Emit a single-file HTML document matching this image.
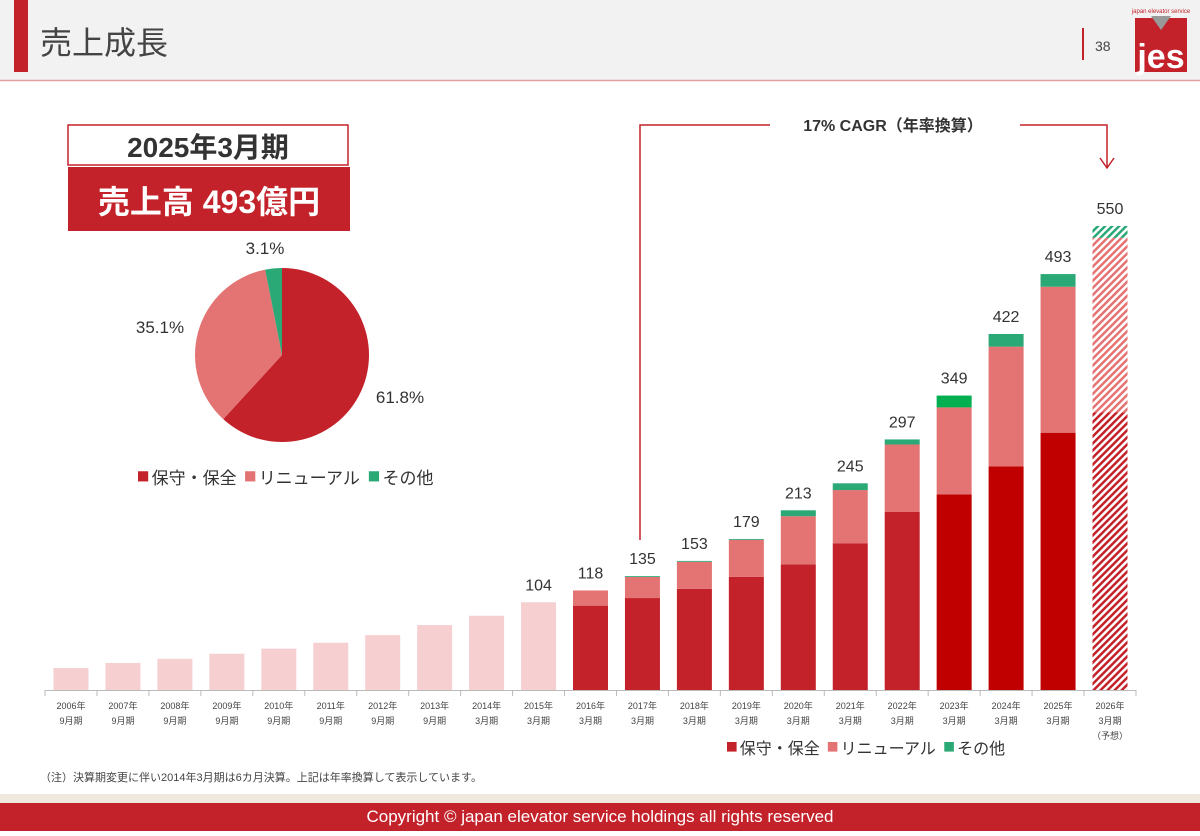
<!DOCTYPE html>
<html><head><meta charset="utf-8"><style>
body{margin:0;width:1200px;height:831px;overflow:hidden;background:#fff;font-family:"Liberation Sans","Noto Sans CJK JP",sans-serif}
svg text{font-family:"Liberation Sans","Noto Sans CJK JP",sans-serif}
</style></head><body>
<svg id="s" width="1200" height="831" viewBox="0 0 1200 831" xmlns="http://www.w3.org/2000/svg">
<defs>
<pattern id="hR" width="5" height="5" patternUnits="userSpaceOnUse" patternTransform="rotate(45)"><rect width="5" height="5" fill="#fff"/><rect width="2.5" height="5" fill="#c4222a"/></pattern>
<pattern id="hP" width="5" height="5" patternUnits="userSpaceOnUse" patternTransform="rotate(45)"><rect width="5" height="5" fill="#fff"/><rect width="2.5" height="5" fill="#e57373"/></pattern>
<pattern id="hG" width="5" height="5" patternUnits="userSpaceOnUse" patternTransform="rotate(45)"><rect width="5" height="5" fill="#fff"/><rect width="2.5" height="5" fill="#2aa876"/></pattern>
</defs>
<g>
<rect x="0" y="0" width="1200" height="80" fill="#f2f2f2"/>
<rect x="14" y="0" width="14" height="72" fill="#c4222a"/>
<line x1="0" y1="80.5" x2="1200" y2="80.5" stroke="#e0a0a0" stroke-width="1.5"/>
<text x="40" y="54" font-size="32" fill="#444">売上成長</text>
<rect x="1082" y="28" width="2" height="32" fill="#c4222a"/>
<text x="1095" y="51" font-size="14" fill="#444">38</text>
<g>
<text x="1161" y="13" font-size="6" fill="#c4222a" text-anchor="middle">japan elevator service</text>
<rect x="1135" y="18" width="52" height="54" fill="#c4222a"/>
<polygon points="1151,16 1171,16 1161,30" fill="#999"/>
<text x="1161" y="68" font-size="34" font-weight="bold" fill="#fff" text-anchor="middle">jes</text>
</g>
</g>
<rect x="68" y="125" width="280" height="40" fill="#fff" stroke="#c4222a" stroke-width="1.5"/>
<text x="208" y="157" font-size="28" font-weight="bold" fill="#333" text-anchor="middle">2025年3月期</text>
<rect x="68" y="167" width="282" height="64" fill="#c4222a"/>
<text x="209" y="213" font-size="32" font-weight="bold" fill="#fff" text-anchor="middle">売上高 493億円</text>
<g id="pie"></g>
<g id="chart"></g>
<g stroke="#c4222a" stroke-width="1.5" fill="none">
<polyline points="640,540 640,125 770,125"/>
<polyline points="1020,125 1107,125 1107,168"/>
<polyline points="1100,158 1107,168 1114,158"/>
</g>
<text x="893" y="131" font-size="16" font-weight="bold" fill="#333" text-anchor="middle">17% CAGR（年率換算）</text>
<text x="40" y="781" font-size="11" fill="#444">（注）決算期変更に伴い2014年3月期は6カ月決算。上記は年率換算して表示しています。</text>
<rect x="0" y="794" width="1200" height="10" fill="#eee8df"/>
<rect x="0" y="803" width="1200" height="28" fill="#c4222a"/>
<text x="600" y="822" font-size="17" fill="#fff" text-anchor="middle">Copyright © japan elevator service holdings all rights reserved</text>
</svg>
<script>
const years=["2006年","2007年","2008年","2009年","2010年","2011年","2012年","2013年","2014年","2015年","2016年","2017年","2018年","2019年","2020年","2021年","2022年","2023年","2024年","2025年","2026年"];
const periods=["9月期","9月期","9月期","9月期","9月期","9月期","9月期","9月期","3月期","3月期","3月期","3月期","3月期","3月期","3月期","3月期","3月期","3月期","3月期","3月期","3月期"];
const totals=[26,32,37,43,49,56,65,77,88,104,118,135,153,179,213,245,297,349,422,493,550];
const maintenance=[0,0,0,0,0,0,0,0,0,0,100,109,120,134,149,174,211,232,265,305,329];
const renewal=[0,0,0,0,0,0,0,0,0,0,18,25,32,44,57,63,80,103,142,173,207];
const other=[0,0,0,0,0,0,0,0,0,0,0,1,1,1,7,8,6,14,15,15,14];
const labels=["","","","","","","","","","104","118","135","153","179","213","245","297","349","422","493","550"];
const pieValues=[61.8,35.1,3.1];
const pieLabels=["61.8%","35.1%","3.1%"];
const NS="http://www.w3.org/2000/svg";
function mk(t,a,p){const e=document.createElementNS(NS,t);for(const k in a)e.setAttribute(k,a[k]);p.appendChild(e);return e;}
const chart=document.getElementById('chart');
const base=690,scale=464/550,x0=71,step=51.95,bw=35;
const xc=i=>x0+i*step;const yv=v=>base-v*scale;
mk('line',{x1:45,y1:base+0.5,x2:1136,y2:base+0.5,stroke:'#bbb'},chart);
for(let i=0;i<=years.length;i++){const t=mk('line',{x1:xc(i)-step/2,y1:base,x2:xc(i)-step/2,y2:base+6,stroke:'#bbb'},chart);}
years.forEach((y,i)=>{
 const g=mk('g',{},chart);
 
 
 const x=xc(i)-bw/2;const fc=i==20;const late=i>=17;
 if(maintenance[i]===0){
  mk('rect',{x:x,y:yv(totals[i]),width:bw,height:totals[i]*scale,fill:'#f6cfd1'},g);
 }else{
  const m=maintenance[i],r=renewal[i],o=totals[i]-m-r;
  mk('rect',{x:x,y:yv(m),width:bw,height:m*scale,fill:fc?'url(#hR)':(late?'#c00000':'#c4222a')},g);
  mk('rect',{x:x,y:yv(m+r),width:bw,height:r*scale,fill:fc?'url(#hP)':'#e47373'},g);
  if(o>0)mk('rect',{x:x,y:yv(totals[i]),width:bw,height:o*scale,fill:fc?'url(#hG)':(i==17?'#00b050':'#2aa876')},g);
 }
 if(labels[i]){const t=mk('text',{x:xc(i),y:yv(totals[i])-12,'font-size':16,fill:'#333','text-anchor':'middle'},g);t.textContent=labels[i];}
 const t1=mk('text',{x:xc(i),y:709,'font-size':9,fill:'#444','text-anchor':'middle'},chart);t1.textContent=y;
 
 
 const t2=mk('text',{x:xc(i),y:724,'font-size':9,fill:'#444','text-anchor':'middle'},chart);t2.textContent=periods[i];
});
const t3=mk('text',{x:xc(20),y:739,'font-size':9,fill:'#444','text-anchor':'middle'},chart);t3.textContent='（予想）';
function legend(x,y,fs,parent){
 const items=[["保守・保全","#c4222a"],["リニューアル","#e47373"],["その他","#2aa876"]];
 const g=mk('g',{},parent);
 
 
 let cx=x;items.forEach(([n,c])=>{mk('rect',{x:cx,y:y-fs*0.75,width:fs*0.6,height:fs*0.6,fill:c},g);
 const t=mk('text',{x:cx+fs*0.8,y:y,'font-size':fs,fill:'#333'},g);t.textContent=n;cx+=fs*0.8+n.length*fs*0.98+fs*0.6;});
}
legend(727,754,16,chart);
const pie=document.getElementById('pie');
const cx=282,cy=355,R=87;const pc=['#c4222a','#e47373','#2aa876'];
let a0=0;const tot=pieValues.reduce((a,b)=>a+b,0);
const lp=[[400,403],[160,333],[265,254]];
pieValues.forEach((v,i)=>{
 const a1=a0+v/tot*2*Math.PI;
 const p=(a)=>[cx+R*Math.sin(a),cy-R*Math.cos(a)];
 const [x1,y1]=p(a0),[x2,y2]=p(a1);
 const path=mk('path',{d:`M${cx},${cy} L${x1},${y1} A${R},${R} 0 ${a1-a0>Math.PI?1:0} 1 ${x2},${y2} Z`,fill:pc[i]},pie);
 
 
 const t=mk('text',{x:lp[i][0],y:lp[i][1],'font-size':17,fill:'#333','text-anchor':'middle'},pie);t.textContent=pieLabels[i];
 a0=a1;
});
legend(138,484,17,pie);
</script>
</body></html>
